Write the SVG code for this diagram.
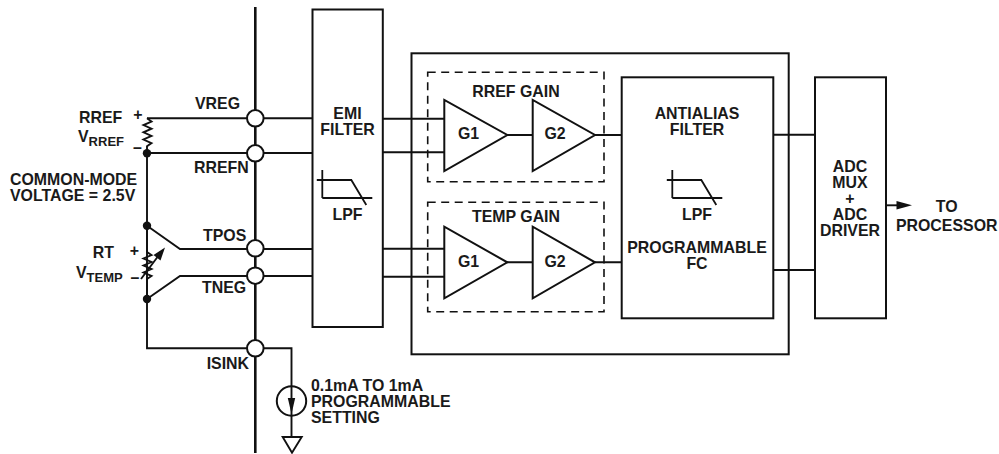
<svg xmlns="http://www.w3.org/2000/svg" width="999" height="454" viewBox="0 0 999 454">
<style>
text{font-family:"Liberation Sans",Arial,sans-serif;font-weight:700;font-size:15.9px;fill:#1a1a1a}
.m{text-anchor:middle}
.s{font-size:13px}
.l{fill:none;stroke:#111;stroke-width:1.9}
.h{fill:none;stroke:#111;stroke-width:2.6}
.b{fill:#fff;stroke:#111;stroke-width:2}
.o{fill:none;stroke:#111;stroke-width:2}
.d{fill:none;stroke:#111;stroke-width:1.6;stroke-dasharray:8 5.500}
.dot{fill:#111;stroke:none}
</style>
<defs>
<path id="lpf" d="M0 0V28M-5.500 10H29L44 35M0 28H50" fill="none" stroke="#111" stroke-width="1.8"/>
</defs>
<g id="outer-box"><rect class="o" x="411.500" y="53.300" width="377.200" height="301"/></g>
<g id="rref-gain"><rect class="d" x="427.700" y="72.300" width="176.300" height="109.400"/><text class="m" x="516" y="97">RREF GAIN</text></g>
<g id="temp-gain"><rect class="d" x="427.700" y="202.300" width="176.300" height="109.400"/><text class="m" x="516" y="222">TEMP GAIN</text></g>
<g id="connectors">
<path class="h" d="M255.300 7V453"/>
<path class="l" d="M147 118.300H313M147 153H313M147 153V348.300H255M147 225.700L180 249H313M147 299L180 276H313"/>
<path class="l" d="M147 118.300l4.500 3.200l-8 3.600l8 3.600l-8 3.600l8 3.600l-8 3.600l8 3.600l-4.500 3.200V153"/>
<path class="l" d="M147 225.700V252l4.500 3l-8 3.500l8 3.500l-8 3.500l8 3.500l-8 3.500l8 3.500l-4.500 3V299"/>
<path class="l" d="M141 279L159 255"/>
<path class="dot" d="M165 247.500L153.500 255L160.500 260.500Z"/>
<circle class="dot" cx="147" cy="153.300" r="4.200"/><circle class="dot" cx="147" cy="225.700" r="4.200"/><circle class="dot" cx="147" cy="299" r="4.200"/>
<path class="l" d="M255 348.300H291.500V437"/>
<path class="l" d="M382 118.700H444M382 152.300H444M382 248.700H444M382 276.700H444M507 135H533M595 135H622M507 262.300H533M595 262.300H622M773 134.700H815M773 270H815"/>
<path class="l" d="M886 205.300H900"/><path class="dot" d="M912 205.300L896.500 201V209.600Z"/>
</g>
<g id="emi-filter"><rect class="b" x="312.500" y="9.500" width="70.300" height="317.500"/><text class="m" x="347.500" y="119">EMI</text><text class="m" x="347.500" y="135">FILTER</text><use href="#lpf" x="322.300" y="170"/><text class="m" x="347.500" y="220">LPF</text></g>
<g id="amp-g1-top"><path class="b" d="M444.300 100V171L507.300 135Z"/><text class="m" x="468.500" y="139">G1</text></g>
<g id="amp-g2-top"><path class="b" d="M532.700 100V171L595 135Z"/><text class="m" x="555" y="139">G2</text></g>
<g id="amp-g1-bot"><path class="b" d="M444.300 226.700V298.300L507.300 262.300Z"/><text class="m" x="468.500" y="267">G1</text></g>
<g id="amp-g2-bot"><path class="b" d="M532.700 226.700V298.300L595 262.300Z"/><text class="m" x="555" y="267">G2</text></g>
<g id="antialias"><rect class="b" x="621.700" y="77.300" width="151.600" height="241"/><text class="m" x="697" y="119">ANTIALIAS</text><text class="m" x="697" y="135">FILTER</text><use href="#lpf" x="672.300" y="170"/><text class="m" x="697" y="220">LPF</text><text class="m" x="697" y="253">PROGRAMMABLE</text><text class="m" x="697" y="269">FC</text></g>
<g id="adc"><rect class="b" x="815" y="77.300" width="71" height="241"/><text class="m" x="850" y="172">ADC</text><text class="m" x="850" y="188">MUX</text><text class="m" x="850" y="204">+</text><text class="m" x="850" y="220">ADC</text><text class="m" x="850" y="236">DRIVER</text></g>
<g id="to-processor"><text class="m" x="946.700" y="212">TO</text><text class="m" x="946.700" y="231">PROCESSOR</text></g>
<g id="pins">
<circle class="b" cx="255.300" cy="118.300" r="8.300"/><circle class="b" cx="255.300" cy="153.300" r="8.300"/><circle class="b" cx="255.300" cy="248.300" r="8.300"/><circle class="b" cx="255.300" cy="275.700" r="8.300"/><circle class="b" cx="255.300" cy="348.300" r="8.300"/>
<text x="195" y="109">VREG</text><text x="194" y="173">RREFN</text><text x="203" y="241">TPOS</text><text x="202" y="293">TNEG</text><text x="206.700" y="369">ISINK</text>
</g>
<g id="sensor-labels">
<text x="79" y="122.700">RREF</text><text class="m" x="138" y="120">+</text><text x="78" y="142">V<tspan class="s" dy="4">RREF</tspan></text><text class="m" x="137.500" y="153">–</text>
<text x="10" y="185">COMMON-MODE</text><text x="10" y="201">VOLTAGE = 2.5V</text>
<text x="92.700" y="258">RT</text><text class="m" x="134.500" y="256">+</text><text x="76" y="278">V<tspan class="s" dy="4">TEMP</tspan></text><text class="m" x="135" y="283">–</text>
</g>
<g id="current-sink"><circle class="o" cx="291.500" cy="401" r="14.700"/><path class="dot" d="M291.500 414L287.800 398H295.200Z"/><path class="l" d="M282.700 437H301.700L292 452.700Z"/>
<text x="311" y="391">0.1mA TO 1mA</text><text x="311" y="407">PROGRAMMABLE</text><text x="311" y="423">SETTING</text></g>
</svg>
